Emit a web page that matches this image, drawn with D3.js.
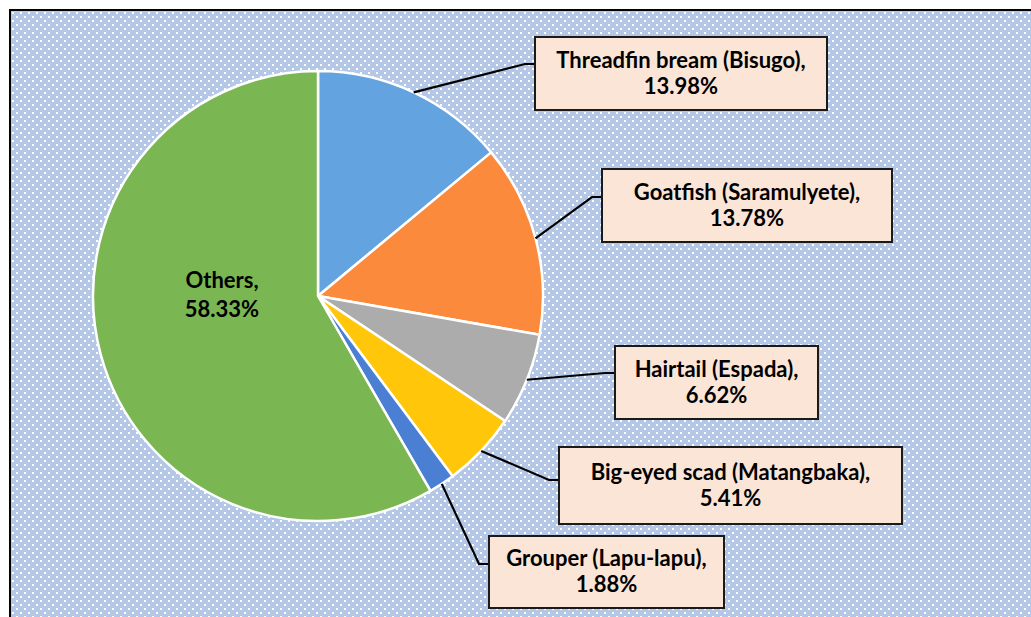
<!DOCTYPE html>
<html>
<head>
<meta charset="utf-8">
<script src="https://cdn.jsdelivr.net/npm/d3@7"></script>
<style>
  html, body { margin: 0; padding: 0; background: #fff; }
  svg { display: block; }
</style>
</head>
<body>
<svg id="chart" width="1031" height="617"></svg>
<script>
// data
var categories = ['Threadfin bream (Bisugo)', 'Goatfish (Saramulyete)', 'Hairtail (Espada)', 'Big-eyed scad (Matangbaka)', 'Grouper (Lapu-lapu)', 'Others']
var shares = [13.98, 13.78, 6.62, 5.41, 1.88, 58.33]
var colors = ['#62a3e0', '#fb8a3c', '#acacac', '#ffc60a', '#4a7fd4', '#7ab651']

// label boxes (layout only)
var boxes = [
  { x: 535, y: 37, w: 292, h: 73, elbowY: 64 },
  { x: 602, y: 169, w: 290, h: 73, elbowY: 197 },
  { x: 615, y: 346, w: 203, h: 73, elbowY: 373 },
  { x: 559, y: 447, w: 343, h: 77, elbowY: 480 },
  { x: 489, y: 536, w: 235, h: 72, elbowY: 564 },
  null
]

var svg = d3.select('#chart')
var cx = 318, cy = 296, r = 225

var defs = svg.append('defs')
var pat = defs.append('pattern')
  .attr('id', 'dots')
  .attr('patternUnits', 'userSpaceOnUse')
  .attr('width', 8).attr('height', 8)
  .attr('x', 11).attr('y', 11)
pat.append('rect').attr('width', 8).attr('height', 8).attr('fill', '#b4c7e7')
pat.append('rect').attr('x', 1).attr('y', 1).attr('width', 2).attr('height', 2).attr('fill', '#fff')
pat.append('rect').attr('x', 5).attr('y', 5).attr('width', 2).attr('height', 2).attr('fill', '#fff')

// chart area frame
svg.append('rect')
  .attr('x', 10).attr('y', 10)
  .attr('width', 1040).attr('height', 640)
  .attr('fill', 'url(#dots)')
  .attr('stroke', '#000')
  .attr('stroke-width', 2)

var data = categories.map(function(c, i) {
  return { name: c, value: shares[i], color: colors[i], box: boxes[i] }
})

var pie = d3.pie().sort(null).value(function(d) { return d.value })
var arcs = pie(data)
var arc = d3.arc().innerRadius(0).outerRadius(r)

var g = svg.append('g').attr('transform', 'translate(' + cx + ',' + cy + ')')

g.selectAll('.slice')
  .data(arcs)
  .enter()
  .append('path')
  .attr('class', 'slice')
  .attr('d', arc)
  .attr('fill', function(d) { return d.data.color })
  .attr('stroke', '#fff')
  .attr('stroke-width', 2.5)
  .attr('stroke-linejoin', 'round')

var font = 'Lato, "Open Sans", sans-serif'
var fs = 22

// leader lines, from the middle of each slice's rim to the box
arcs.forEach(function(d) {
  var b = d.data.box
  if (!b) return
  var a = (d.startAngle + d.endAngle) / 2
  var sx = cx + r * Math.sin(a)
  var sy = cy - r * Math.cos(a)
  svg.append('path')
    .attr('d', d3.line()([[sx, sy], [b.x - 10, b.elbowY], [b.x, b.elbowY]]))
    .attr('fill', 'none')
    .attr('stroke', '#000')
    .attr('stroke-width', 2.2)

  svg.append('rect')
    .attr('x', b.x).attr('y', b.y)
    .attr('width', b.w).attr('height', b.h)
    .attr('fill', '#fbe5d6')
    .attr('stroke', '#1a1a1a')
    .attr('stroke-width', 2)

  var t = svg.append('text')
    .attr('x', b.x + b.w / 2)
    .attr('y', b.y + b.h / 2 - 6)
    .attr('text-anchor', 'middle')
    .attr('font-family', font)
    .attr('font-weight', 'bold')
    .attr('font-size', fs)
    .attr('fill', '#000')
  t.append('tspan').text(d.data.name + ',')
  t.append('tspan')
    .attr('x', b.x + b.w / 2)
    .attr('dy', 26)
    .text(d3.format('.2f')(d.data.value) + '%')
})

// the big slice carries its label inside
var others = arcs[arcs.length - 1]
var ot = svg.append('text')
  .attr('x', 222)
  .attr('y', 288)
  .attr('text-anchor', 'middle')
  .attr('font-family', font)
  .attr('font-weight', 'bold')
  .attr('font-size', fs)
  .attr('fill', '#000')
ot.append('tspan').text(others.data.name + ',')
ot.append('tspan').attr('x', 222).attr('dy', 29).text(d3.format('.2f')(others.data.value) + '%')
</script>
</body>
</html>
